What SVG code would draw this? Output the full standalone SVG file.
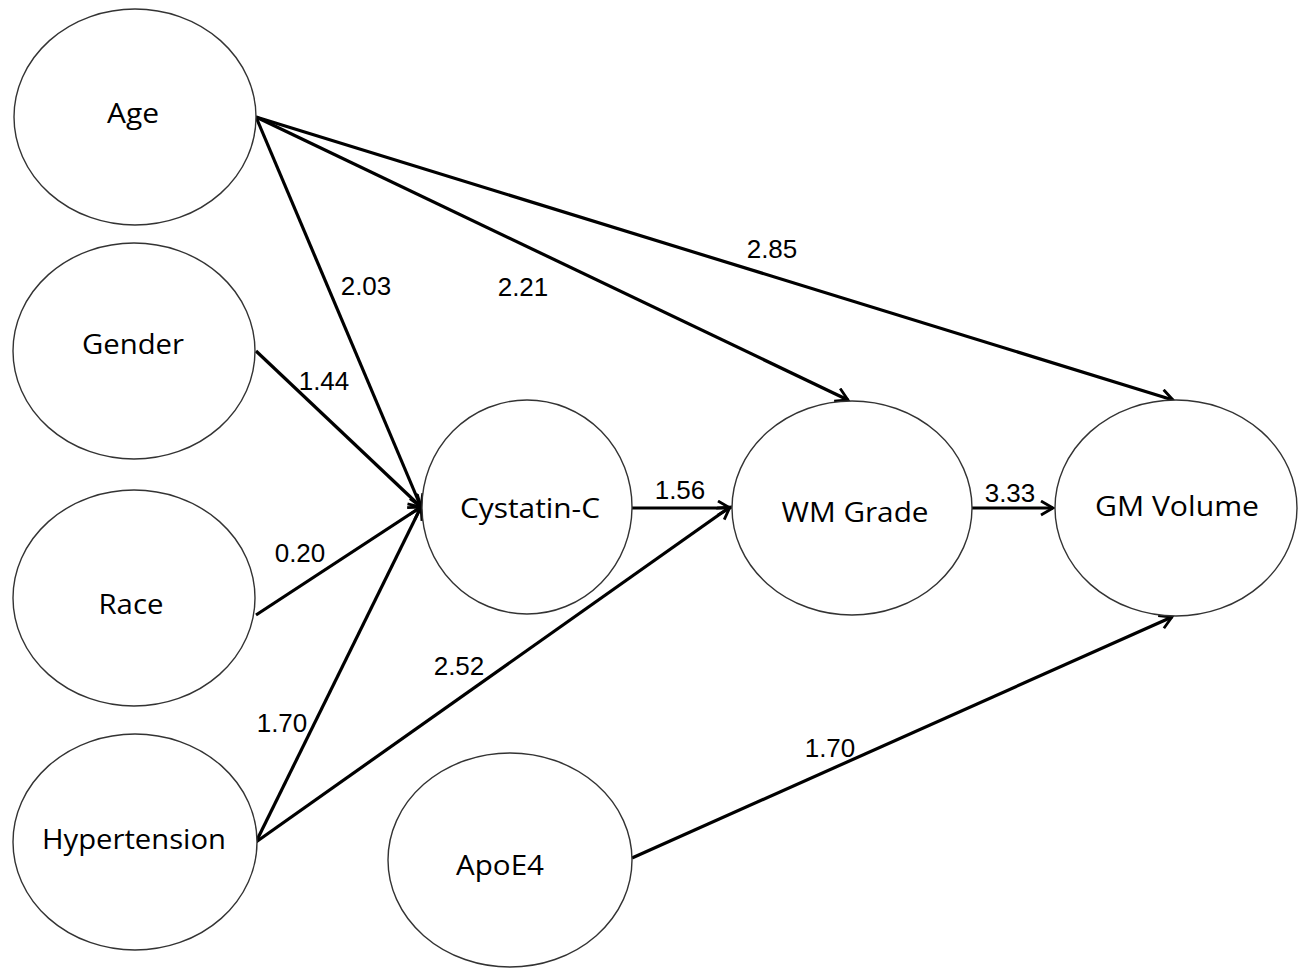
<svg xmlns="http://www.w3.org/2000/svg" width="1301" height="968" viewBox="0 0 1301 968">
<style>
.node ellipse{fill:#fff;stroke:#333;stroke-width:1.4}
.node text{font-family:"Open Sans","Noto Sans","Liberation Sans",sans-serif;font-size:28px;fill:#000;text-anchor:middle}
.edges line{stroke:#000;stroke-width:3.2;marker-end:url(#arr)}
.lbl{font-family:"Liberation Sans",Arial,sans-serif;font-size:26px;fill:#000;text-anchor:middle}
</style>
<defs>
<marker id="arr" markerUnits="userSpaceOnUse" markerWidth="20" markerHeight="20" refX="15" refY="8" orient="auto">
<path d="M3,1 L15,8 L3,15" fill="none" stroke="#000" stroke-width="2.8"/>
</marker>
</defs>
<rect width="1301" height="968" fill="#fff"/>
<g class="edges">
<line x1="256" y1="117" x2="421" y2="507"/>
<line x1="256" y1="117" x2="848" y2="400"/>
<line x1="256" y1="117" x2="1173" y2="400"/>
<line x1="256" y1="351" x2="421" y2="507"/>
<line x1="256" y1="615" x2="421" y2="507"/>
<line x1="256" y1="842" x2="421" y2="507"/>
<line x1="256" y1="842" x2="730" y2="507"/>
<line x1="632" y1="508" x2="730" y2="508"/>
<line x1="972" y1="508" x2="1053" y2="508"/>
<line x1="632" y1="858" x2="1172" y2="617"/>
</g>
<g id="edge-labels">
<text class="lbl" x="366" y="295">2.03</text>
<text class="lbl" x="523" y="296">2.21</text>
<text class="lbl" x="772" y="258">2.85</text>
<text class="lbl" x="324" y="390">1.44</text>
<text class="lbl" x="300" y="562">0.20</text>
<text class="lbl" x="282" y="732">1.70</text>
<text class="lbl" x="459" y="675">2.52</text>
<text class="lbl" x="680" y="499">1.56</text>
<text class="lbl" x="1010" y="502">3.33</text>
<text class="lbl" x="830" y="757">1.70</text>
</g>
<g id="age" class="node"><ellipse cx="135" cy="117" rx="121" ry="108"/><text x="133" y="123" textLength="52" lengthAdjust="spacingAndGlyphs">Age</text></g>
<g id="gender" class="node"><ellipse cx="134" cy="351" rx="121" ry="108"/><text x="133" y="354" textLength="102" lengthAdjust="spacingAndGlyphs">Gender</text></g>
<g id="race" class="node"><ellipse cx="134" cy="598" rx="121" ry="108"/><text x="131" y="614" textLength="65" lengthAdjust="spacingAndGlyphs">Race</text></g>
<g id="hypertension" class="node"><ellipse cx="135" cy="842" rx="122" ry="108"/><text x="134" y="849" textLength="184" lengthAdjust="spacingAndGlyphs">Hypertension</text></g>
<g id="cystatin" class="node"><ellipse cx="527" cy="507" rx="105" ry="107"/><text x="530" y="518" textLength="140" lengthAdjust="spacingAndGlyphs">Cystatin-C</text></g>
<g id="wmgrade" class="node"><ellipse cx="852" cy="508" rx="120" ry="107"/><text x="855" y="522" textLength="147" lengthAdjust="spacingAndGlyphs">WM Grade</text></g>
<g id="gmvolume" class="node"><ellipse cx="1176" cy="508" rx="121" ry="108"/><text x="1177" y="516" textLength="164" lengthAdjust="spacingAndGlyphs">GM Volume</text></g>
<g id="apoe4" class="node"><ellipse cx="510" cy="860" rx="122" ry="107"/><text x="500" y="875" textLength="88" lengthAdjust="spacingAndGlyphs">ApoE4</text></g>
</svg>
